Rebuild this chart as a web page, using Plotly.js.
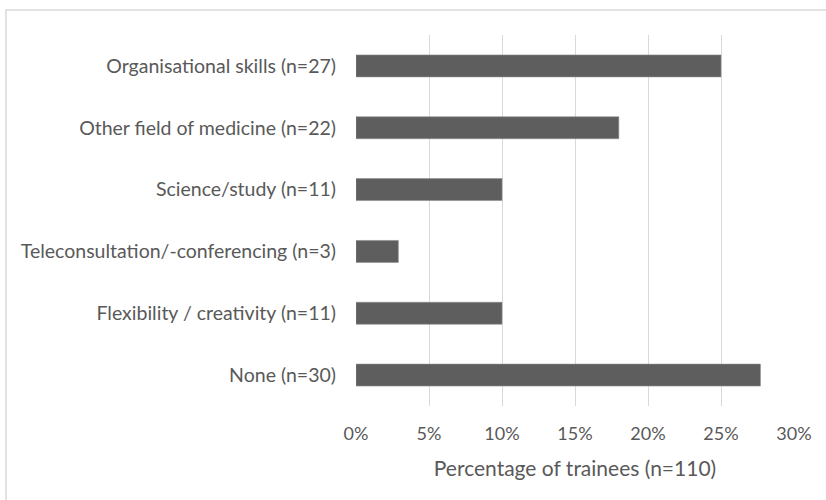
<!DOCTYPE html>
<html>
<head>
<meta charset="utf-8">
<script src="https://cdn.plot.ly/plotly-3.0.1.min.js"></script>
<style>html,body{margin:0;padding:0;background:#fff;}#chart{width:826px;height:500px;}</style>
</head>
<body>
<div id="chart"></div>
<script>
var categories = [
  "Organisational skills (n=27)",
  "Other field of medicine (n=22)",
  "Science/study (n=11)",
  "Teleconsultation/-conferencing (n=3)",
  "Flexibility / creativity (n=11)",
  "None (n=30)"
];
var percentages = [25.0, 18.0, 10.0, 2.9, 10.0, 27.7];
var tickValues = [0, 5, 10, 15, 20, 25, 30];
var tickLabels = ["0%", "5%", "10%", "15%", "20%", "25%", "30%"];
var xTitle = "Percentage of trainees (n=110)";

var font = "Lato, 'Open Sans', 'Noto Sans', sans-serif";
var PW = 438, PH = 371;

var trace = {
  type: "bar",
  orientation: "h",
  y: categories,
  x: percentages,
  marker: {color: "#5e5e5e", line: {color: "#8a8a8a", width: 0.6}},
  hoverinfo: "x+y"
};

var layout = {
  width: 826, height: 500,
  margin: {l: 356, r: 32, t: 35, b: 94},
  paper_bgcolor: "#ffffff", plot_bgcolor: "#ffffff",
  bargap: 0.645,
  showlegend: false,
  font: {family: font, color: "#595959", size: 16},
  xaxis: {
    range: [0, 30],
    tickvals: tickValues,
    ticktext: tickLabels,
    showgrid: true, gridcolor: "#d9d9d9", gridwidth: 1,
    zeroline: false, showline: false, ticks: "",
    ticklabelstandoff: 15,
    tickfont: {family: font, size: 18, color: "#595959"},
    title: {text: xTitle, font: {family: font, size: 21, color: "#595959"}, standoff: 18},
    fixedrange: true
  },
  yaxis: {
    categoryorder: "array",
    categoryarray: categories.slice().reverse(),
    showgrid: false, zeroline: false, showline: false, ticks: "",
    ticklabelstandoff: 19,
    tickfont: {family: font, size: 19.5, color: "#595959"},
    fixedrange: true
  },
  shapes: [{
    type: "rect", xref: "paper", yref: "paper",
    x0: (6 - 356) / PW, x1: (830 - 356) / PW,
    y0: (406 - 510) / PH, y1: (406 - 10) / PH,
    line: {color: "#d9d9d9", width: 1.5}, fillcolor: "rgba(0,0,0,0)", layer: "below"
  }]
};

Plotly.newPlot("chart", [trace], layout, {displayModeBar: false, staticPlot: true});
</script>
</body>
</html>
